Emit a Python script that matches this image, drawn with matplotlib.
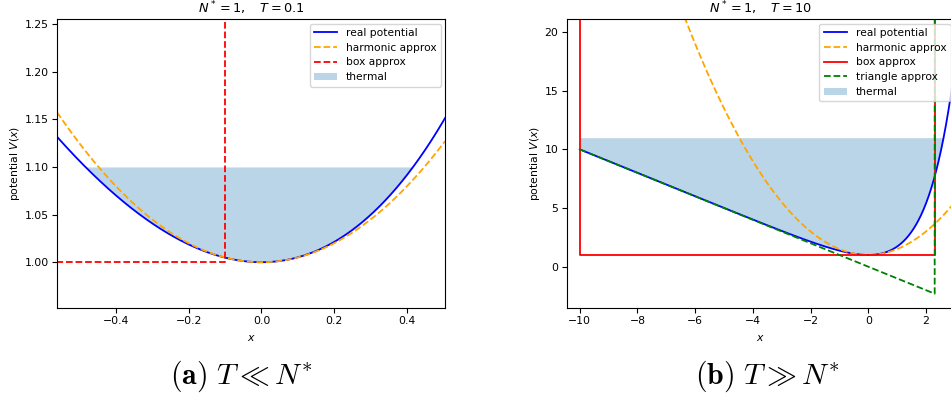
import numpy as np
import matplotlib

matplotlib.use("Agg")
import matplotlib.pyplot as plt

plt.rcParams["mathtext.fontset"] = "dejavusans"

# parameters of the two panels
N_STAR = 1
TEMPS = [0.1, 10]
X_STARTS = [-0.561, -10.0]
X_LIMS = [(-0.561, 0.504), (-10.45, 3.0)]
Y_LIMS = [(0.952, 1.255), (-3.52, 21.1)]
CAPTIONS = [r"$\mathbf{(a)}\ T \ll N^{*}$", r"$\mathbf{(b)}\ T \gg N^{*}$"]
AX_POS = [[0.060, 0.232, 0.408, 0.720], [0.596, 0.232, 0.408, 0.720]]


def real_potential(x):
    return np.exp(x) - N_STAR * x


def harmonic(x):
    return 1 + x ** 2 / 2


fig = plt.figure(figsize=(9.51, 4.01), dpi=100)

for i, T in enumerate(TEMPS):
    ax = fig.add_axes(AX_POS[i])
    x = np.linspace(X_STARTS[i], X_LIMS[i][1], 1500)
    V = real_potential(x)

    ax.plot(x, V, color="blue", lw=1.3, label="real potential")
    ax.plot(x, harmonic(x), "--", color="orange", lw=1.3, label="harmonic approx")

    # box: walls at -T and ln T, floor at V=1
    a, b = sorted([-T, np.log(T)])
    box_ls = "--" if i == 0 else "-"
    ax.plot([a, a, b, b], [100, 1, 1, 100], box_ls, color="red", lw=1.3,
            label="box approx")

    if i == 1:
        xt = np.array([-T, np.log(T)])
        ax.plot(np.r_[xt, xt[-1]], np.r_[-N_STAR * xt, 100], "--",
                color="green", lw=1.3, label="triangle approx")

    mask = V <= 1 + T
    ax.fill_between(x, V, 1 + T, where=mask, color="C0", alpha=0.3,
                    lw=0, label="thermal")

    ax.set_xlim(*X_LIMS[i])
    ax.set_ylim(*Y_LIMS[i])
    ax.set_title(rf"$N^*=1, \quad T={T:g}$", fontsize=9.3, pad=4)
    ax.set_xlabel("$x$", fontsize=7.8, labelpad=5)
    ax.set_ylabel("potential $V(x)$", fontsize=7.8, labelpad=2)
    ax.tick_params(labelsize=7.8, length=3.5, pad=2.5)
    if i == 0:
        ax.set_yticks([1.00, 1.05, 1.10, 1.15, 1.20, 1.25])
        ax.set_xticks([-0.4, -0.2, 0.0, 0.2, 0.4])
    else:
        ax.set_yticks([0, 5, 10, 15, 20])
        ax.set_xticks([-10, -8, -6, -4, -2, 0, 2])
    ax.legend(loc="upper right", fontsize=7.7, handlelength=2.2,
              borderaxespad=0.4, labelspacing=0.45)

    fig.text([0.254, 0.807][i], 0.062, CAPTIONS[i], ha="center", va="center",
             fontsize=21.5, math_fontfamily="cm")

fig.savefig("out.png", dpi=100)
